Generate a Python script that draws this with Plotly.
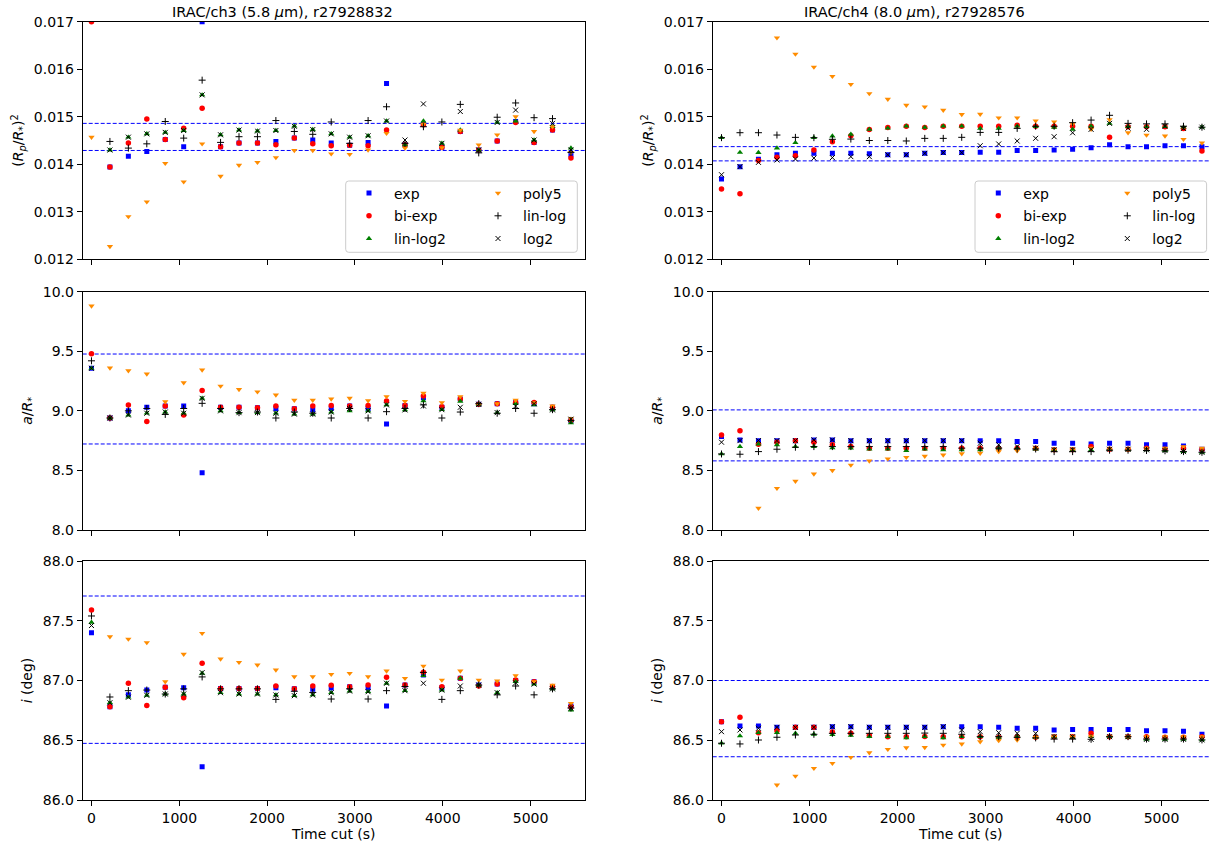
import plotly.graph_objects as go

# ---------------- data ----------------
time_cut = [0, 210, 420, 630, 840, 1050, 1260, 1470, 1680, 1890, 2100, 2310, 2520, 2730,
            2940, 3150, 3360, 3570, 3780, 3990, 4200, 4410, 4620, 4830, 5040, 5250, 5460]

series_names = ["exp", "bi-exp", "lin-log2", "poly5", "lin-log", "log2"]

# ---- IRAC/ch3 : (Rp/R*)^2
rp2_ch3_exp = [None, 0.01394, 0.01417, 0.01427, 0.01452, 0.01437, 0.01700, 0.01437, 0.01445, 0.01445,
               0.01448, 0.01455, 0.01451, 0.01445, 0.01440, 0.01446, 0.01570, 0.01441, 0.01484, 0.01436,
               0.01469, 0.01430, 0.01449, 0.01490, 0.01446, 0.01472, 0.01420]
rp2_ch3_biexp = [0.01700, 0.01394, 0.01445, 0.01495, 0.01452, 0.01476, 0.01518, 0.01437, 0.01445, 0.01445,
                 0.01441, 0.01455, 0.01443, 0.01439, 0.01440, 0.01439, 0.01472, 0.01441, 0.01483, 0.01436,
                 0.01469, 0.01430, 0.01449, 0.01488, 0.01446, 0.01472, 0.01413]
rp2_ch3_linlog2 = [None, 0.01430, 0.01457, 0.01464, 0.01467, 0.01471, 0.01546, 0.01462, 0.01472, 0.01470,
                   0.01471, 0.01480, 0.01473, 0.01464, 0.01457, 0.01460, 0.01491, 0.01441, 0.01491, 0.01444,
                   0.01472, 0.01430, 0.01488, 0.01491, 0.01451, 0.01479, 0.01434]
rp2_ch3_poly5 = [0.01457, 0.01227, 0.01290, 0.01321, 0.01402, 0.01363, 0.01443, 0.01375, 0.01398, 0.01404,
                 0.01414, 0.01429, 0.01429, 0.01422, 0.01421, 0.01430, 0.01465, 0.01434, 0.01484, 0.01435,
                 0.01472, 0.01441, 0.01462, 0.01500, 0.01469, 0.01479, 0.01425]
rp2_ch3_linlog = [None, 0.01448, 0.01434, 0.01443, 0.01490, 0.01455, 0.01577, 0.01446, 0.01458, 0.01458,
                  0.01492, 0.01469, 0.01463, 0.01489, 0.01444, 0.01492, 0.01521, 0.01444, 0.01479, 0.01489,
                  0.01526, 0.01424, 0.01499, 0.01529, 0.01498, 0.01496, 0.01425]
rp2_ch3_log2 = [None, 0.01430, 0.01457, 0.01464, 0.01467, 0.01471, 0.01546, 0.01462, 0.01472, 0.01470,
                0.01471, 0.01480, 0.01473, 0.01464, 0.01457, 0.01460, 0.01491, 0.01451, 0.01527, 0.01444,
                0.01511, 0.01430, 0.01488, 0.01514, 0.01451, 0.01486, 0.01430]
rp2_ch3_bounds = [0.01486, 0.01429]

# ---- IRAC/ch3 : a/R*
ar_ch3_exp = [9.357, 8.94, 9.00, 9.03, 9.04, 9.04, 8.48, 9.03, 9.03, 9.027, 9.02, 9.018, 9.01, 9.02,
              9.041, 9.02, 8.89, 9.044, 9.11, 9.03, 9.10, 9.055, 9.06, 9.07, 9.06, 9.03, 8.92]
ar_ch3_biexp = [9.48, 8.94, 9.05, 8.91, 9.04, 8.965, 9.17, 9.03, 9.03, 9.027, 9.04, 9.018, 9.04, 9.044,
                9.041, 9.044, 9.083, 9.044, 9.125, 9.035, 9.10, 9.055, 9.06, 9.07, 9.07, 9.03, 8.92]
ar_ch3_linlog2 = [9.357, 8.94, 8.965, 8.98, 8.99, 8.98, 9.105, 9.00, 8.985, 8.985, 8.98, 8.973, 8.973, 8.99,
                  8.999, 9.00, 9.05, 9.008, 9.083, 9.01, 9.08, 9.055, 8.985, 9.06, 9.05, 9.008, 8.90]
ar_ch3_poly5 = [9.88, 9.36, 9.337, 9.31, 9.077, 9.236, 9.343, 9.208, 9.18, 9.16, 9.133, 9.09, 9.09, 9.10,
                9.106, 9.085, 9.12, 9.08, 9.148, 9.07, 9.12, 9.055, 9.06, 9.09, 9.07, 9.041, 8.934]
ar_ch3_linlog = [9.42, 8.94, 9.00, 9.02, 8.97, 9.02, 9.063, 9.02, 8.985, 8.99, 8.94, 8.99, 8.98, 8.94,
                 9.02, 8.94, 8.993, 9.02, 9.05, 8.94, 8.99, 9.06, 8.98, 9.02, 8.98, 9.01, 8.92]
ar_ch3_log2 = [9.357, 8.94, 8.965, 8.98, 8.99, 8.98, 9.105, 9.00, 8.985, 8.985, 8.98, 8.973, 8.973, 8.99,
               9.02, 9.00, 9.05, 9.008, 9.041, 9.01, 9.03, 9.055, 8.985, 9.04, 9.06, 9.008, 8.93]
ar_ch3_bounds = [9.477, 8.722]

# ---- IRAC/ch3 : inclination
inc_ch3_exp = [87.40, 86.78, 86.88, 86.92, 86.943, 86.94, 86.279, 86.934, 86.934, 86.934, 86.94, 86.93,
               86.926, 86.937, 86.948, 86.94, 86.787, 86.962, 87.046, 86.94, 87.018, 86.962, 86.97,
               87.00, 86.99, 86.95, 86.787]
inc_ch3_biexp = [87.59, 86.78, 86.976, 86.79, 86.943, 86.856, 87.144, 86.934, 86.934, 86.934, 86.954,
                 86.93, 86.954, 86.96, 86.948, 86.962, 87.027, 86.962, 87.068, 86.948, 87.018, 86.955,
                 86.97, 87.004, 86.99, 86.95, 86.78]
inc_ch3_linlog2 = [87.487, 86.814, 86.86, 86.876, 86.887, 86.887, 87.06, 86.898, 86.887, 86.887, 86.879,
                   86.873, 86.879, 86.898, 86.912, 86.906, 86.977, 86.915, 87.04, 86.92, 87.018, 86.962,
                   86.898, 86.99, 86.97, 86.93, 86.753]
inc_ch3_poly5 = [None, 87.367, 87.347, 87.317, 86.99, 87.22, 87.395, 87.18, 87.152, 87.13, 87.088, 87.032,
                 87.032, 87.052, 87.06, 87.032, 87.08, 87.018, 87.121, 87.004, 87.08, 87.004, 86.996,
                 87.04, 86.99, 86.962, 86.809]
inc_ch3_linlog = [87.54, 86.862, 86.915, 86.92, 86.887, 86.93, 87.03, 86.93, 86.93, 86.93, 86.842, 86.91,
                  86.90, 86.845, 86.93, 86.845, 86.915, 86.95, 87.068, 86.842, 86.915, 86.962, 86.88,
                  86.954, 86.88, 86.93, 86.77]
inc_ch3_log2 = [87.46, 86.814, 86.86, 86.876, 86.887, 86.887, 87.066, 86.898, 86.887, 86.887, 86.879,
                86.873, 86.879, 86.898, 86.912, 86.906, 86.977, 86.915, 86.977, 86.92, 86.954, 86.962,
                86.898, 86.98, 86.97, 86.93, 86.77]
inc_ch3_bounds = [87.707, 86.474]

# ---- IRAC/ch4 : (Rp/R*)^2
rp2_ch4_exp = [0.01369, 0.01395, 0.014106, 0.01420, 0.01423, 0.01423, 0.01423, 0.01423, 0.01422, 0.01420,
               0.01420, 0.01423, 0.014245, 0.014245, 0.014253, 0.014253, 0.014287, 0.014287, 0.01430,
               0.014314, 0.014349, 0.01441, 0.014371, 0.014371, 0.01439, 0.01439, 0.014371]
rp2_ch4_biexp = [0.01348, 0.01338, 0.01408, 0.01415, 0.01418, 0.01430, 0.014475, 0.01460, 0.014734,
                 0.014775, 0.01480, 0.014775, 0.01480, 0.01480, 0.01480, 0.01480, 0.01482, 0.01480,
                 0.01480, 0.01480, 0.01480, 0.014567, 0.01479, 0.01479, 0.01479, 0.014755, 0.01428]
rp2_ch4_linlog2 = [0.01456, 0.01425, 0.014245, 0.01434, 0.014455, 0.01456, 0.014594, 0.01463, 0.014734,
                   0.01476, 0.01480, 0.014775, 0.01480, 0.01480, 0.014755, 0.014755, 0.01480, 0.01479,
                   0.014775, 0.014735, 0.01480, 0.01486, 0.01479, 0.01479, 0.01479, 0.01478, 0.01478]
rp2_ch4_poly5 = [None, None, None, 0.01666, 0.01632, 0.016045, 0.01585, 0.015682, 0.015487, 0.01537,
                 0.015243, 0.01521, 0.015138, 0.015048, 0.015055, 0.014978, 0.014978, 0.014915, 0.014893,
                 0.01485, 0.014735, 0.01494, 0.014663, 0.014615, 0.014595, 0.014526, 0.01445]
rp2_ch4_linlog = [0.01456, 0.014664, 0.014664, 0.014615, 0.014566, 0.01456, 0.014525, 0.01453, 0.01450,
                  0.01450, 0.01449, 0.014545, 0.014545, 0.014567, 0.01467, 0.01467, 0.014755, 0.01480,
                  0.01480, 0.014875, 0.01493, 0.01503, 0.01486, 0.01485, 0.01485, 0.01480, 0.01478]
rp2_ch4_log2 = [0.01378, 0.01395, 0.01404, 0.01409, 0.01411, 0.01413, 0.01414, 0.01416, 0.01416, 0.01420,
                0.01420, 0.01423, 0.014245, 0.014245, 0.01439, 0.014427, 0.01449, 0.014546, 0.01458,
                0.014663, 0.014735, 0.01486, 0.01476, 0.014735, 0.01480, 0.014755, 0.01478]
rp2_ch4_bounds = [0.014371, 0.014071]

# ---- IRAC/ch4 : a/R*
ar_ch4_exp = [8.784, 8.756, 8.75, 8.75, 8.75, 8.756, 8.756, 8.75, 8.75, 8.75, 8.75, 8.75, 8.75, 8.75,
              8.75, 8.75, 8.742, 8.742, 8.728, 8.728, 8.722, 8.728, 8.728, 8.715, 8.715, 8.706, 8.678]
ar_ch4_biexp = [8.798, 8.834, 8.72, 8.737, 8.75, 8.737, 8.715, 8.70, 8.687, 8.687, 8.687, 8.687, 8.687,
                8.687, 8.687, 8.687, 8.687, 8.687, 8.673, 8.673, 8.70, 8.678, 8.678, 8.687, 8.678, 8.687,
                8.673]
ar_ch4_linlog2 = [8.638, 8.70, 8.72, 8.715, 8.70, 8.70, 8.69, 8.687, 8.678, 8.678, 8.667, 8.678, 8.673,
                  8.673, 8.673, 8.687, 8.687, 8.678, 8.673, 8.673, 8.673, 8.678, 8.673, 8.673, 8.667,
                  8.658, 8.652]
ar_ch4_poly5 = [None, None, 8.183, 8.35, 8.41, 8.47, 8.50, 8.545, 8.58, 8.597, 8.61, 8.62, 8.63, 8.64,
                8.645, 8.658, 8.665, 8.687, 8.673, 8.673, 8.687, 8.678, 8.678, 8.687, 8.687, 8.70, 8.687]
ar_ch4_linlog = [8.638, 8.636, 8.658, 8.678, 8.695, 8.70, 8.70, 8.70, 8.70, 8.70, 8.70, 8.70, 8.70, 8.687,
                 8.687, 8.687, 8.68, 8.68, 8.658, 8.658, 8.658, 8.67, 8.67, 8.667, 8.665, 8.658, 8.652]
ar_ch4_log2 = [8.737, 8.75, 8.75, 8.75, 8.75, 8.756, 8.756, 8.75, 8.75, 8.75, 8.75, 8.75, 8.75, 8.75,
               8.728, 8.715, 8.70, 8.687, 8.673, 8.673, 8.673, 8.678, 8.678, 8.673, 8.667, 8.658, 8.652]
ar_ch4_bounds = [9.008, 8.580]

# ---- IRAC/ch4 : inclination
inc_ch4_exp = [86.655, 86.62, 86.62, 86.608, 86.608, 86.608, 86.613, 86.613, 86.608, 86.608, 86.608,
               86.608, 86.613, 86.613, 86.613, 86.608, 86.60, 86.60, 86.586, 86.59, 86.59, 86.59, 86.59,
               86.58, 86.58, 86.575, 86.55]
inc_ch4_biexp = [86.655, 86.692, 86.563, 86.58, 86.608, 86.608, 86.57, 86.558, 86.54, 86.53, 86.53,
                 86.532, 86.53, 86.53, 86.53, 86.525, 86.53, 86.525, 86.53, 86.53, 86.558, 86.53, 86.53,
                 86.53, 86.525, 86.525, 86.53]
inc_ch4_linlog2 = [86.475, 86.536, 86.563, 86.563, 86.558, 86.55, 86.547, 86.54, 86.53, 86.53, 86.52,
                   86.53, 86.52, 86.53, 86.53, 86.525, 86.53, 86.525, 86.53, 86.525, 86.53, 86.53, 86.525,
                   86.508, 86.508, 86.508, 86.503]
inc_ch4_poly5 = [None, None, None, 86.126, 86.20, 86.265, 86.307, 86.357, 86.396, 86.424, 86.438, 86.44,
                 86.46, 86.469, 86.488, 86.497, 86.502, 86.525, 86.53, 86.53, 86.53, 86.53, 86.53, 86.53,
                 86.53, 86.53, 86.53]
inc_ch4_linlog = [86.475, 86.469, 86.502, 86.525, 86.544, 86.55, 86.558, 86.558, 86.558, 86.558, 86.558,
                  86.56, 86.558, 86.55, 86.53, 86.53, 86.525, 86.52, 86.51, 86.51, 86.508, 86.53, 86.53,
                  86.51, 86.51, 86.51, 86.503]
inc_ch4_log2 = [86.572, 86.586, 86.60, 86.608, 86.608, 86.608, 86.613, 86.613, 86.608, 86.608, 86.608,
                86.608, 86.613, 86.586, 86.572, 86.563, 86.558, 86.558, 86.53, 86.53, 86.508, 86.53, 86.53,
                86.508, 86.508, 86.508, 86.503]
inc_ch4_bounds = [87.000, 86.362]

panel_titles = ["IRAC/ch3 (5.8 <i>μ</i>m), r27928832", "IRAC/ch4 (8.0 <i>μ</i>m), r27928576"]
ylabels = ["(<i>R<sub>p</sub></i>/<i>R</i><sub>*</sub>)<sup>2</sup>",
           "<i>a</i>/<i>R</i><sub>*</sub>",
           "<i>i</i> (deg)"]
xlabel = "Time cut (s)"
yranges = [[0.012, 0.017], [8.0, 10.0], [86.0, 88.0]]
ydticks = [0.001, 0.5, 0.5]
yformats = [".3f", ".1f", ".1f"]
xtickvals = [0, 1000, 2000, 3000, 4000, 5000]

# ---------------- styling ----------------
W, H = 1209, 844
FONT = "DejaVu Sans"
STYLE = {
    "exp": dict(symbol="square", size=5, color="#0000ff"),
    "bi-exp": dict(symbol="circle", size=5.5, color="#ff0000"),
    "lin-log2": dict(symbol="triangle-up", size=5.5, color="#008000"),
    "poly5": dict(symbol="triangle-down", size=5.5, color="#ff8c00"),
    "lin-log": dict(symbol="cross-thin", size=5, color="#000000"),
    "log2": dict(symbol="x-thin", size=5, color="#000000"),
}
LEGEND_OF = {  # matplotlib ncol=2 (column-major) -> two plotly legends per panel
    0: {"exp": "legend", "bi-exp": "legend", "lin-log2": "legend",
        "poly5": "legend2", "lin-log": "legend2", "log2": "legend2"},
    1: {"exp": "legend3", "bi-exp": "legend3", "lin-log2": "legend3",
        "poly5": "legend4", "lin-log": "legend4", "log2": "legend4"},
}

panels = [
    (0, 0, [rp2_ch3_exp, rp2_ch3_biexp, rp2_ch3_linlog2, rp2_ch3_poly5, rp2_ch3_linlog, rp2_ch3_log2], rp2_ch3_bounds),
    (0, 1, [rp2_ch4_exp, rp2_ch4_biexp, rp2_ch4_linlog2, rp2_ch4_poly5, rp2_ch4_linlog, rp2_ch4_log2], rp2_ch4_bounds),
    (1, 0, [ar_ch3_exp, ar_ch3_biexp, ar_ch3_linlog2, ar_ch3_poly5, ar_ch3_linlog, ar_ch3_log2], ar_ch3_bounds),
    (1, 1, [ar_ch4_exp, ar_ch4_biexp, ar_ch4_linlog2, ar_ch4_poly5, ar_ch4_linlog, ar_ch4_log2], ar_ch4_bounds),
    (2, 0, [inc_ch3_exp, inc_ch3_biexp, inc_ch3_linlog2, inc_ch3_poly5, inc_ch3_linlog, inc_ch3_log2], inc_ch3_bounds),
    (2, 1, [inc_ch4_exp, inc_ch4_biexp, inc_ch4_linlog2, inc_ch4_poly5, inc_ch4_linlog, inc_ch4_log2], inc_ch4_bounds),
]

xdomains = [[82.7 / W, 585.0 / W], [712.7 / W, 1.0]]
xranges = [[-100, 5620], [-100, 5540]]
ydomains = [[1 - 259.3 / H, 1 - 21.7 / H], [1 - 530.0 / H, 1 - 291.7 / H], [1 - 800.0 / H, 1 - 561.0 / H]]

fig = go.Figure()
layout = dict(
    width=W, height=H, autosize=False, margin=dict(l=0, r=0, t=0, b=0, pad=0),
    paper_bgcolor="white", plot_bgcolor="white",
    font=dict(family=FONT, size=14, color="black"),
    shapes=[], annotations=[], hovermode="closest",
)

tickfont = dict(family=FONT, size=14, color="black")
titlefont = dict(family=FONT, size=14, color="black")

for row, col, lists, bounds in panels:
    n = row * 2 + col + 1
    xid = "x" if n == 1 else f"x{n}"
    yid = "y" if n == 1 else f"y{n}"
    xkey = "xaxis" if n == 1 else f"xaxis{n}"
    ykey = "yaxis" if n == 1 else f"yaxis{n}"

    # dashed reference lines
    for b in bounds:
        layout["shapes"].append(dict(
            type="line", xref=f"{xid} domain", yref=yid, x0=0, x1=1, y0=b, y1=b,
            line=dict(color="#0000ff", width=1, dash="4px,2px"), layer="below"))

    for name, vals in zip(series_names, lists):
        st = STYLE[name]
        thin = st["symbol"].endswith("thin")
        fig.add_trace(go.Scatter(
            x=time_cut, y=vals, mode="markers", name=name,
            xaxis=xid, yaxis=yid,
            marker=dict(symbol=st["symbol"], size=st["size"], color=st["color"],
                        line=dict(width=1 if thin else 0, color=st["color"])),
            showlegend=(row == 0), legend=LEGEND_OF[col][name],
            legendgroup=f"{name}-{col}"))

    xaxis = dict(
        domain=xdomains[col], anchor=yid, range=xranges[col], automargin=False,
        tickmode="array", tickvals=xtickvals, showticklabels=(row == 2),
        ticks="outside", ticklen=5, tickwidth=1, tickcolor="black",
        showline=True, linecolor="black", linewidth=1, mirror=True,
        showgrid=False, zeroline=False, tickfont=tickfont,
    )
    if row == 2:
        xaxis["title"] = dict(text=xlabel, font=titlefont, standoff=0)
    layout[xkey] = xaxis
    layout[ykey] = dict(
        domain=ydomains[row], anchor=xid, range=yranges[row], automargin=False,
        tickmode="linear", tick0=yranges[row][0], dtick=ydticks[row], tickformat=yformats[row],
        ticks="outside", ticklen=5, tickwidth=1, tickcolor="black",
        showline=True, linecolor="black", linewidth=1, mirror=(col == 0),
        showgrid=False, zeroline=False, tickfont=tickfont,
        title=dict(text=ylabels[row], font=titlefont, standoff=6),
    )

# legends (two columns each, like matplotlib ncol=2)
leg_common = dict(orientation="v", xanchor="left", yanchor="top", bgcolor="rgba(0,0,0,0)",
                  borderwidth=0, font=dict(family=FONT, size=14, color="black"),
                  tracegroupgap=1.5, itemwidth=40, traceorder="grouped",
                  itemclick=False, itemdoubleclick=False)
legend_top = 1 - 177.5 / H
layout["legend"] = dict(leg_common, x=344.0 / W, y=legend_top)
layout["legend2"] = dict(leg_common, x=473.0 / W, y=legend_top)
layout["legend3"] = dict(leg_common, x=973.3 / W, y=legend_top)
layout["legend4"] = dict(leg_common, x=1102.3 / W, y=legend_top)


def rounded_box(x0, x1, y0, y1, r=3.0):
    def P(x, y):
        return f"{x / W:.6f},{1 - y / H:.6f}"
    return (f"M {P(x0 + r, y0)} L {P(x1 - r, y0)} Q {P(x1, y0)} {P(x1, y0 + r)} "
            f"L {P(x1, y1 - r)} Q {P(x1, y1)} {P(x1 - r, y1)} L {P(x0 + r, y1)} "
            f"Q {P(x0, y1)} {P(x0, y1 - r)} L {P(x0, y0 + r)} Q {P(x0, y0)} {P(x0 + r, y0)} Z")


for bx0, bx1 in [(345.7, 577.3), (975.0, 1206.6)]:
    layout["shapes"].append(dict(
        type="path", xref="paper", yref="paper", path=rounded_box(bx0, bx1, 181.0, 252.3),
        line=dict(color="#cccccc", width=1), fillcolor="rgba(255,255,255,0.8)", layer="above"))

# panel titles
for cx, txt in zip([282.0, 914.0], panel_titles):
    layout["annotations"].append(dict(
        text=txt, xref="paper", yref="paper", x=cx / W, y=1 - 12.0 / H,
        xanchor="center", yanchor="middle", showarrow=False,
        font=dict(family=FONT, size=14.5, color="black")))

fig.update_layout(**layout)
fig.write_html("out.html", config={"displayModeBar": False},
               post_script="document.body.style.margin='0';document.body.style.overflow='hidden';")
